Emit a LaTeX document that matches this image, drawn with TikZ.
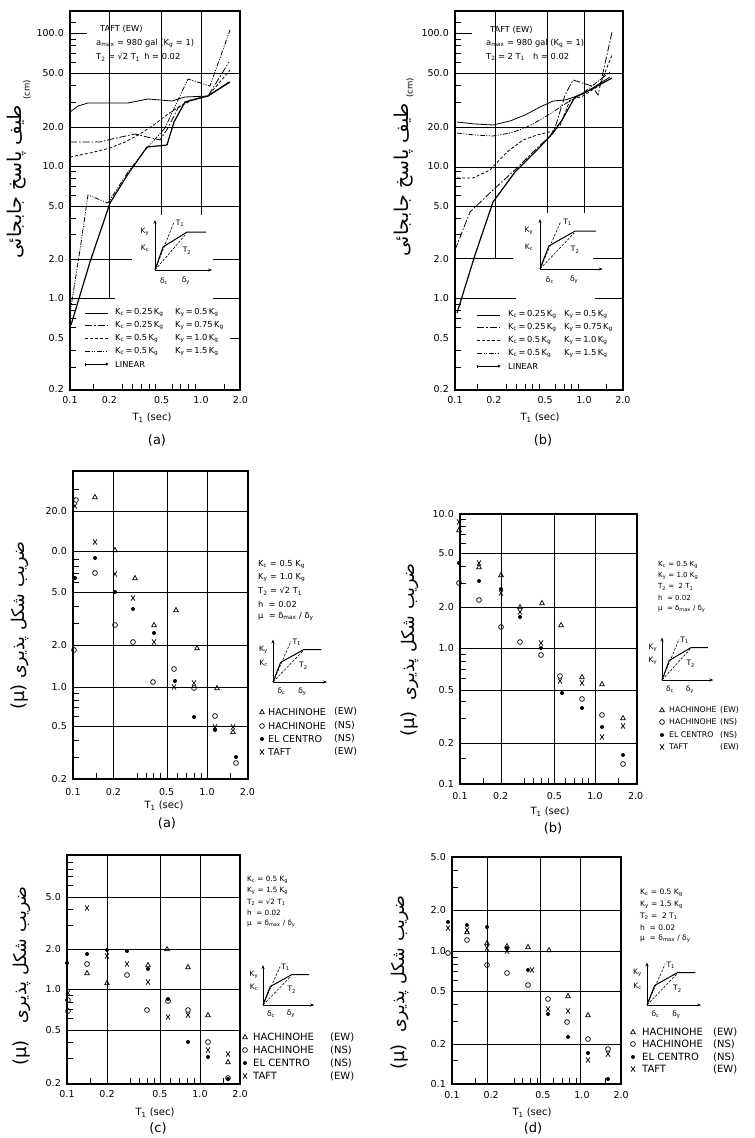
\documentclass[tikz,border=0pt]{standalone}
\usepackage{fontspec}
\setmainfont{DejaVu Sans}
\newfontfamily\arabicfont[Script=Arabic]{DejaVu Sans}
\TeXXeTstate=1
\usetikzlibrary{arrows.meta}
\newcommand\sbs[1]{\textsubscript{#1}}
% markers
\newcommand\mtri[1]{\foreach \a/\b in {#1}{\draw[mk] (\a-2.4,\b+1.8) -- (\a+2.4,\b+1.8) -- (\a,\b-2.5) -- cycle;}}
\newcommand\mcir[1]{\foreach \a/\b in {#1}{\draw[mk] (\a,\b) circle[radius=2.4pt];}}
\newcommand\mdot[1]{\foreach \a/\b in {#1}{\fill (\a,\b) circle[radius=2pt];}}
\newcommand\mex[1]{\foreach \a/\b in {#1}{\draw[mk] (\a-2,\b-2.6) -- (\a+2,\b+2.6) (\a-2,\b+2.6) -- (\a+2,\b-2.6);}}
% ticks
\newcommand\lticks[4]{\foreach \vv in {#4}{\draw[tk] (#1,{#2-#3*log10(\vv)}) -- ++(6,0);}}
\newcommand\bticks[4]{\foreach \tt in {#4}{\draw[tk] ({#1+#3*log10(10*\tt)},#2) -- ++(0,-6);}}
\newcommand\ylabels[3]{\foreach \lab/\yy [count=\i] in {#3}{\node[ylab] (#1y\i) at (#2,\yy) {\lab};}}
\newcommand\xlabels[4]{\foreach \lab/\pos [count=\i] in {0.1/0,0.2/0.30103,0.5/0.69897,1.0/1,2.0/1.30103}{\node[xlab] (#1x\i) at ({#3+#4*\pos},#2) {\lab};}}
% inset
\newcommand\inset[6]{%
\begin{scope}[shift={(#1,#2)}, xscale=#3, yscale=#4]
 \draw[axarrow] (0,0) -- (0,-50);
 \draw[axarrow] (0,0) -- (57,0);
 \draw[line width=1pt] (0,0) -- (8,-23) -- (32,-38) -- (51,-38);
 \draw[dsh] (0,0) -- (19,-48);
 \draw[dsh] (0,0) -- (31,-36);
 \node[il] (#6ky) at (-10,-38) {K\sbs{y}};
 \node[il] (#6kc) at (-10,-22) {#5};
 \node[il] (#6t1) at (25,-47) {T\sbs{1}};
 \node[il] (#6t2) at (32,-19) {T\sbs{2}};
 \node[il] (#6dc) at (9,11) {δ\sbs{c}};
 \node[il] (#6dy) at (31,11) {δ\sbs{y}};
\end{scope}}
% marker legend
\newcommand\mklegend[9]{%
 \mtri{#1/#4} \mcir{#1/#5} \mdot{#1/#6} \mex{#1/#7}
 \node[leg,font=\fontsize{#9}{#9}\selectfont] (#8n1) at (#2,#4) {HACHINOHE};
 \node[leg,font=\fontsize{#9}{#9}\selectfont] (#8s1) at (#3,#4) {(EW)};
 \node[leg,font=\fontsize{#9}{#9}\selectfont] (#8n2) at (#2,#5) {HACHINOHE};
 \node[leg,font=\fontsize{#9}{#9}\selectfont] (#8s2) at (#3,#5) {(NS)};
 \node[leg,font=\fontsize{#9}{#9}\selectfont] (#8n3) at (#2,#6) {EL CENTRO};
 \node[leg,font=\fontsize{#9}{#9}\selectfont] (#8s3) at (#3,#6) {(NS)};
 \node[leg,font=\fontsize{#9}{#9}\selectfont] (#8n4) at (#2,#7) {TAFT};
 \node[leg,font=\fontsize{#9}{#9}\selectfont] (#8s4) at (#3,#7) {(EW)};}
% parameter block: name, x, ycenter-first-line, fontsize, spacing, T2 text, Ky
\newcommand\params[7]{%
 \foreach \txt [count=\i] in {{K\sbs{c} = 0.5 K\sbs{g}},{K\sbs{y} = #7 K\sbs{g}},{T\sbs{2} = #6 T\sbs{1}},{h\ \ = 0.02},{μ\ \ = δ\sbs{max} / δ\sbs{y}}}{
 \node[anchor=west, inner sep=0pt, font=\fontsize{#4}{#4}\selectfont] (#1\i) at (#2,{#3+#5*(\i-1)}) {\txt};}}
% curve legend
\newcommand\clegend[6]{% x0,x1,xk,xy,y0,dy
 \draw[c1] (#1,#5) -- (#2,#5);
 \draw[c2] (#1,{#5+#6}) -- (#2,{#5+#6});
 \draw[c3] (#1,{#5+2*#6}) -- (#2,{#5+2*#6});
 \draw[c4] (#1,{#5+3*#6}) -- (#2,{#5+3*#6});
 \draw[c5, {Bar[width=3pt]}-{Circle[length=2.5pt]}] (#1,{#5+4*#6}) -- (#2,{#5+4*#6});
}
\begin{document}
\begin{tikzpicture}[x=1pt,y=-1pt,
  frm/.style={line width=1.1pt},
  grd/.style={line width=1pt},
  tk/.style={line width=0.7pt},
  mk/.style={line width=0.7pt},
  axarrow/.style={line width=0.7pt,-{Stealth[length=4pt,width=3pt]}},
  dsh/.style={line width=0.6pt,dash pattern=on 2.5pt off 1.5pt},
  il/.style={inner sep=0pt,font=\fontsize{7.5}{8}\selectfont},
  ylab/.style={anchor=east,inner sep=0pt,font=\fontsize{9.5}{10}\selectfont},
  xlab/.style={anchor=north,inner sep=0pt,font=\fontsize{9.5}{10}\selectfont},
  leg/.style={anchor=west,inner sep=0pt},
  hd/.style={anchor=west,inner sep=0pt,font=\fontsize{8.3}{9}\selectfont},
  lt/.style={anchor=west,inner sep=0pt,font=\fontsize{8.3}{9}\selectfont},
  ttl/.style={inner sep=0pt,font=\fontsize{10}{11}\selectfont},
  captxt/.style={inner sep=0pt,font=\fontsize{13}{14}\selectfont},
  artxt/.style={inner sep=0pt,rotate=90,font=\arabicfont\fontsize{17.5}{18}\selectfont},
  artop/.style={inner sep=0pt,rotate=90,font=\arabicfont\fontsize{19}{20}\selectfont},
  mutxt/.style={inner sep=0pt,rotate=90,font=\fontsize{18}{19}\selectfont},
  cmtxt/.style={inner sep=0pt,rotate=90,font=\fontsize{8.5}{9}\selectfont},
  c1/.style={line width=0.8pt},
  c2/.style={line width=0.8pt,dash pattern=on 7pt off 2pt on 1.5pt off 2pt},
  c3/.style={line width=0.8pt,dash pattern=on 3pt off 2pt},
  c4/.style={line width=0.8pt,dash pattern=on 5pt off 1.5pt on 1pt off 1.5pt on 1pt off 1.5pt},
  c5/.style={line width=1.2pt}]
\useasboundingbox (0,0) rectangle (755,1138);
\fill[white] (0,0) rectangle (755,1138);

%================ TOP (a) ================
\draw[frm] (70,11) rectangle (240,390);
\draw[grd] (109,11) -- (109,298) (161,11) -- (161,215) (201,11) -- (201,215);
\draw[grd] (70,73) -- (240,73) (70,127) -- (240,127) (70,166) -- (240,166) (70,206) -- (240,206);
\draw[grd] (70,259) -- (132,259) (213,259) -- (240,259) (70,298) -- (115,298) (213,298) -- (240,298);
\draw[tk] (70,33) -- (87,33) (230,338) -- (240,338);
\lticks{70}{298}{132.5}{0.3,0.4,0.6,0.7,0.8,0.9,3,4,6,7,8,9,30,40,60,70,80,90,120}
\bticks{70}{390}{131}{0.15,0.25,0.3,0.35,0.4,0.45,0.6,0.7,0.8,0.9,1.5}
\ylabels{ta}{64}{100.0/33,50.0/73,20.0/127,10.0/166,5.0/206,2.0/259,1.0/298,0.5/338,0.2/389}
\xlabels{ta}{396}{70}{131}
\node[ttl] (ta-t) at (152,418) {T\sbs{1} (sec)};
\node[captxt] (ta-c) at (157,440) {(a)};
\node[artop] (ta-ar) at (17,182) {\beginR طیف پاسخ جابجائی\endR};
\node[cmtxt] (ta-cm) at (27,90) {(cm)};
\node[hd] (ta-h1) at (100,29) {TAFT (EW)};
\node[hd] (ta-h2) at (96,43) {a\sbs{max} = 980 gal (K\sbs{g} = 1)};
\node[hd] (ta-h3) at (96,57) {T\sbs{2} = √2 T\sbs{1}\enspace h = 0.02};
\draw[c1] plot coordinates {(70,112) (78,106) (88,103) (128,103) (148,99) (160,100) (172,101) (185,97) (208,96) (229,82)};
\draw[c2] plot coordinates {(70,142) (100,142) (112,139) (135,134) (147,137) (160,140) (168,128) (178,108) (190,100) (208,96) (229,62)};
\draw[c3] plot coordinates {(70,157) (90,153) (110,148) (125,142) (140,134) (155,124) (168,114) (180,106) (195,99) (208,96) (230,70)};
\draw[c4] plot coordinates {(70,313) (80,250) (88,195) (108,203) (128,172) (147,148) (165,128) (178,100) (188,79) (210,86) (230,30)};
\draw[c5] plot coordinates {(71,325) (90,262) (110,203) (128,174) (147,147) (167,145) (174,122) (185,102) (208,96) (230,82)};
\inset{155}{270}{1}{1}{K\sbs{c}}{ta-i}
\clegend{85}{108}{115}{175}{313}{12.8}
\foreach \kc/\ky [count=\i] in {0.25/0.5,0.25/0.75,0.5/1.0,0.5/1.5}{
  \node[lt] (ta-lk\i) at (115,{313+12.8*(\i-1)}) {K\sbs{c}\,=\,\kc\,K\sbs{g}};
  \node[lt] (ta-ly\i) at (175,{313+12.8*(\i-1)}) {K\sbs{y}\,=\,\ky\,K\sbs{g}};}
\node[lt] (ta-lin) at (115,364) {LINEAR};

%================ TOP (b) ================
\draw[frm] (455,11) rectangle (623,390);
\draw[grd] (495,11) -- (495,258) (547,11) -- (547,213) (584,11) -- (584,213);
\draw[grd] (455,73) -- (623,73) (455,127) -- (623,127) (455,167) -- (623,167) (455,206) -- (623,206);
\draw[grd] (455,258) -- (513,258) (593,258) -- (623,258) (455,298) -- (516,298) (595,298) -- (623,298);
\draw[tk] (455,33) -- (472,33);
\lticks{455}{298}{132.5}{0.3,0.4,0.6,0.7,0.8,0.9,3,4,6,7,8,9,30,40,60,70,80,90,120}
\bticks{455}{390}{129}{0.15,0.25,0.3,0.35,0.4,0.45,0.6,0.7,0.8,0.9,1.5}
\ylabels{tb}{449}{100.0/33,50.0/73,20.0/127,10.0/166,5.0/206,2.0/259,1.0/298,0.5/338,0.2/389}
\xlabels{tb}{396}{455}{129}
\node[ttl] (tb-t) at (540,418) {T\sbs{1} (sec)};
\node[captxt] (tb-c) at (543,440) {(b)};
\node[artop] (tb-ar) at (404,180) {\beginR طیف پاسخ جابجائی\endR};
\node[cmtxt] (tb-cm) at (410,88) {(cm)};
\node[hd] (tb-h1) at (490,30) {TAFT (EW)};
\node[hd] (tb-h2) at (486,43) {a\sbs{max} = 980 gal (K\sbs{g} = 1)};
\node[hd] (tb-h3) at (486,57) {T\sbs{2} = 2 T\sbs{1}\quad h = 0.02};
\draw[c1] plot coordinates {(457,122) (475,124) (493,125) (510,121) (525,115) (540,107) (553,101) (565,100) (583,94) (610,77)};
\draw[c4] plot coordinates {(457,133) (475,135) (493,136) (510,133) (525,128) (540,120) (553,112) (565,104) (583,93) (610,72)};
\draw[c3] plot coordinates {(457,178) (473,178) (490,170) (507,152) (523,140) (537,135) (553,131) (560,126) (570,100) (583,96) (600,85) (612,55)};
\draw[c2] plot coordinates {(455,250) (470,212) (493,190) (517,168) (533,152) (550,136) (555,128) (565,95) (573,80) (592,86) (598,95) (612,32)};
\draw[c5] plot coordinates {(457,313) (475,255) (493,202) (515,172) (537,150) (553,133) (562,120) (575,97) (590,90) (612,78)};
\inset{540}{269}{1.1}{1}{K\sbs{c}}{tb-i}
\clegend{477}{500}{508}{564}{315}{12.8}
\foreach \kc/\ky [count=\i] in {0.25/0.5,0.25/0.75,0.5/1.0,0.5/1.5}{
  \node[lt] (tb-lk\i) at (508,{315+12.8*(\i-1)}) {K\sbs{c}\,=\,\kc\,K\sbs{g}};
  \node[lt] (tb-ly\i) at (564,{315+12.8*(\i-1)}) {K\sbs{y}\,=\,\ky\,K\sbs{g}};}
\node[lt] (tb-lin) at (508,366) {LINEAR};

%================ MIDDLE (a) ================
\draw[frm] (73,471) rectangle (248,779);
\draw[grd] (113,471) -- (113,779) (167,471) -- (167,779) (207,471) -- (207,779);
\draw[grd] (73,511) -- (248,511) (73,551) -- (248,551) (73,592) -- (248,592) (73,645) -- (248,645) (73,687) -- (248,687) (73,726) -- (248,726);
\lticks{73}{687}{134}{0.3,0.4,0.6,0.7,0.8,0.9,3,4,6,7,8,9,30}
\bticks{73}{779}{134}{0.15,0.3,0.35,0.4,0.45,0.6,0.7,0.8,0.9,1.5}
\ylabels{ma}{67}{20.0/511,0.0/551,5.0/592,2.0/645,1.0/687,0.5/726,0.2/779}
\xlabels{ma}{788}{73}{134}
\node[ttl] (ma-t) at (164,806) {T\sbs{1} (sec)};
\node[captxt] (ma-c) at (167,823) {(a)};
\node[artxt] (ma-ar) at (20,610) {\beginR ضریب شکل پذیری\endR};
\node[mutxt] (ma-mu) at (20,697) {(μ)};
\params{ma-p}{258}{565}{8.3}{13}{√2}{1.0}
\inset{273}{682}{0.95}{0.85}{K\sbs{c}}{ma-i}
\mklegend{262}{268}{334}{712}{726}{739}{752}{ma-l}{9.5}
\mtri{95/497,115/550,135/578,176/610,154/625,197/648,217/688,233/732}
\mcir{76/500,95/573,115/625,133/642,74/650,153/682,174/669,194/688,215/716,236/763}
\mdot{95/558,75/578,115/592,133/609,154/633,175/681,194/717,215/730,236/757}
\mex{75/506,95/542,115/574,133/598,154/642,174/687,194/683,215/727,233/727}

%================ MIDDLE (b) ================
\draw[frm] (460,514) rectangle (637,784);
\draw[grd] (501,514) -- (501,784) (554,514) -- (554,784) (595,514) -- (595,784);
\draw[grd] (460,553) -- (637,553) (460,607) -- (637,607) (460,648) -- (637,648) (460,690) -- (637,690) (460,743) -- (637,743);
\lticks{460}{648}{135}{0.15,0.3,0.4,0.6,0.7,0.8,0.9,3,4,6,7,8,9}
\bticks{460}{784}{135}{0.15,0.3,0.35,0.4,0.45,0.6,0.7,0.8,0.9,1.5}
\ylabels{mb}{454}{10.0/514,5.0/553,2.0/607,1.0/648,0.5/690,0.2/743,0.1/784}
\xlabels{mb}{792}{460}{135}
\node[ttl] (mb-t) at (550,812) {T\sbs{1} (sec)};
\node[captxt] (mb-c) at (553,828) {(b)};
\node[artxt] (mb-ar) at (410,632) {\beginR ضریب شکل پذیری\endR};
\node[mutxt] (mb-mu) at (410,724) {(μ)};
\params{mb-p}{658}{565}{7}{11}{\ 2}{1.0}
\inset{662}{680}{0.9}{0.85}{K\sbs{y}}{mb-i}
\mklegend{662}{669}{720}{710}{722}{735}{747}{mb-l}{7.8}
\mtri{459/530,479/567,501/575,520/607,542/603,561/625,582/677,602/684,623/718}
\mcir{459/583,479/600,501/627,520/642,541/655,560/676,582/699,602/715,623/764}
\mdot{459/563,479/581,501/589,520/617,541/648,562/693,582/708,602/727,623/755}
\mex{459/522,479/563,501/593,520/612,541/643,560/681,582/683,602/737,623/726}

%================ BOTTOM (c) ================
\draw[frm] (67,855) rectangle (240,1084);
\draw[grd] (107,855) -- (107,1084) (160,855) -- (160,1084) (200,855) -- (200,1084);
\draw[grd] (67,897) -- (240,897) (67,949) -- (240,949) (67,989) -- (240,989) (67,1030) -- (240,1030);
\lticks{67}{989}{133}{0.3,0.4,0.6,0.7,0.8,0.9,3,4,6,7,8,9}
\bticks{67}{1084}{133}{0.15,0.3,0.35,0.4,0.45,0.6,0.7,0.8,0.9,1.5}
\ylabels{bc}{61}{5.0/897,2.0/949,1.0/989,0.5/1030,0.2/1083}
\xlabels{bc}{1090}{67}{133}
\node[ttl] (bc-t) at (155,1113) {T\sbs{1} (sec)};
\node[captxt] (bc-c) at (158,1128) {(c)};
\node[artxt] (bc-ar) at (22,955) {\beginR ضریب شکل پذیری\endR};
\node[mutxt] (bc-mu) at (22,1053) {(μ)};
\params{bc-p}{247}{880}{7.2}{11}{√2}{1.5}
\inset{263}{1005}{0.9}{0.8}{K\sbs{c}}{bc-i}
\mklegend{245}{253}{330}{1037}{1050}{1063}{1076}{bc-l}{10}
\mtri{87/973,107/983,148/965,167/949,188/967,208/1015,228/1062}
\mcir{68/1011,68/1000,87/964,127/975,147/1010,168/1001,188/1010,208/1042,228/1078}
\mdot{67/963,87/954,107/950,127/951,148/969,168/999,188/1042,208/1057,228/1079}
\mex{68/993,87/908,107/956,127/964,148/982,168/1017,188/1015,208/1050,228/1054}

%================ BOTTOM (d) ================
\draw[frm] (452,857) rectangle (621,1084);
\draw[grd] (487,857) -- (487,1084) (540,857) -- (540,1084) (580,857) -- (580,1084);
\draw[grd] (452,910) -- (621,910) (452,951) -- (621,951) (452,991) -- (621,991) (452,1044) -- (621,1044);
\lticks{452}{951}{134}{0.15,0.3,0.4,0.6,0.7,0.8,0.9,3,4}
\bticks{452}{1084}{130}{0.15,0.3,0.35,0.4,0.45,0.6,0.7,0.8,0.9,1.5}
\ylabels{bd}{446}{5.0/857,2.0/910,1.0/951,0.5/991,0.2/1044,0.1/1084}
\xlabels{bd}{1091}{452}{130}
\node[ttl] (bd-t) at (532,1113) {T\sbs{1} (sec)};
\node[captxt] (bd-c) at (533,1128) {(d)};
\node[artxt] (bd-ar) at (400,964) {\beginR ضریب شکل پذیری\endR};
\node[mutxt] (bd-mu) at (400,1057) {(μ)};
\params{bd-p}{640}{893}{7.5}{11.5}{\ 2}{1.5}
\inset{647}{1005}{0.95}{0.85}{K\sbs{c}}{bd-i}
\mklegend{633}{642}{713}{1032}{1044}{1057}{1069}{bd-l}{10}
\mtri{467/932,487/943,507/946,528/947,549/950,568/996,588/1015}
\mcir{448/953,467/940,487/965,507/973,528/985,548/999,567/1022,588/1039,608/1049}
\mdot{448/922,467/925,487/927,507/948,528/970,548/1014,568/1037,588/1053,608/1079}
\mex{448/928,467/930,487/948,507/951,532/970,548/1009,568/1011,588/1060,608/1054}
\end{tikzpicture}
\end{document}
